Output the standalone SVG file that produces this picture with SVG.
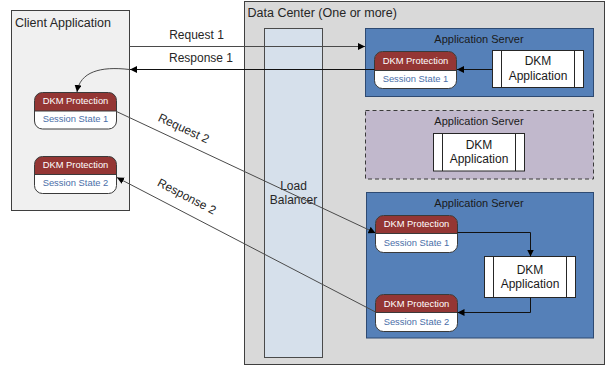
<svg xmlns="http://www.w3.org/2000/svg" width="607" height="368" viewBox="0 0 607 368">
<style>
text{font-family:"Liberation Sans",Arial,sans-serif;}
.title{font-size:12.5px;fill:#262626;}
.srv{font-size:11px;fill:#1a1a1a;text-anchor:middle;}
.lbl{font-size:12px;fill:#262626;}
.app{font-size:12px;fill:#1a1a1a;text-anchor:middle;}
.prot{font-size:9.4px;fill:#ffffff;text-anchor:middle;}
.sess{font-size:9.4px;fill:#4a6ea8;text-anchor:middle;}
.hdr{fill:#943634;}
.pbox{fill:none;stroke:#3a3a3a;stroke-width:1;}
.appbox{fill:#ffffff;stroke:#262626;stroke-width:1;}
.conn{fill:none;stroke:#4a4a4a;stroke-width:1;}
.connk{fill:none;stroke:#111;stroke-width:1;}
</style>
<defs>
<marker id="ah" viewBox="0 0 10 10" refX="10" refY="5" markerWidth="7" markerHeight="7" markerUnits="userSpaceOnUse" orient="auto">
<path d="M0,0 L10,5 L0,10 z" fill="#000"/>
</marker>
<clipPath id="c1"><rect x="374.5" y="51.5" width="82" height="37" rx="8"/></clipPath>
<clipPath id="c2"><rect x="34.5" y="92.5" width="82" height="36.5" rx="8"/></clipPath>
<clipPath id="c3"><rect x="34.5" y="156.5" width="82" height="37" rx="8"/></clipPath>
<clipPath id="c4"><rect x="375.5" y="215.5" width="82" height="37" rx="8"/></clipPath>
<clipPath id="c5"><rect x="375.5" y="294.5" width="82" height="37" rx="8"/></clipPath>
</defs>

<g id="client">
<rect x="11.5" y="10.5" width="118" height="200" fill="#f0f0f0" stroke="#3f3f3f"/>
<text class="title" x="15" y="27">Client Application</text>
</g>

<g id="datacenter">
<rect x="244.5" y="1.5" width="360" height="363" fill="#d9d9d9" stroke="#3f3f3f"/>
<text class="title" x="247.5" y="17">Data Center (One or more)</text>
</g>

<g id="loadbalancer">
<rect x="264.5" y="28.5" width="58" height="329" fill="#d6e0eb" stroke="#4a4a4a"/>
<text class="lbl" x="293.5" y="190" text-anchor="middle">Load</text>
<text class="lbl" x="293.5" y="204" text-anchor="middle">Balancer</text>
</g>

<g id="appserver1">
<rect x="365.5" y="28.5" width="228" height="68" fill="#5580b8" stroke="#2e4a72"/>
<text class="srv" x="479" y="43">Application Server</text>
</g>

<g id="appserver2">
<rect x="365.5" y="110.5" width="228" height="68.5" fill="#c1b8cc" stroke="#3a3a3a" stroke-dasharray="4,3"/>
<text class="srv" x="479" y="125">Application Server</text>
</g>

<g id="appserver3">
<rect x="366.5" y="192.5" width="227" height="145.5" fill="#5580b8" stroke="#2e4a72"/>
<text class="srv" x="479" y="207">Application Server</text>
</g>

<g id="prot1">
<g clip-path="url(#c1)"><rect x="374.5" y="51.5" width="82" height="37" fill="#fff"/><rect class="hdr" x="374.5" y="51.5" width="82" height="19"/></g>
<rect class="pbox" x="374.5" y="51.5" width="82" height="37" rx="8"/>
<line x1="374.5" y1="70.5" x2="456.5" y2="70.5" stroke="#3a3a3a"/>
<text class="prot" x="415.5" y="63.5">DKM Protection</text>
<text class="sess" x="415.5" y="82">Session State 1</text>
</g>

<g id="app1">
<rect class="appbox" x="492.5" y="50.5" width="91" height="37"/>
<line x1="501.5" y1="50.5" x2="501.5" y2="87.5" stroke="#262626"/>
<line x1="574.5" y1="50.5" x2="574.5" y2="87.5" stroke="#262626"/>
<text class="app" x="538" y="65">DKM</text>
<text class="app" x="538" y="79.5">Application</text>
</g>

<g id="app2">
<rect class="appbox" x="433.5" y="133.5" width="91" height="37.5"/>
<line x1="442.5" y1="133.5" x2="442.5" y2="171" stroke="#262626"/>
<line x1="515.5" y1="133.5" x2="515.5" y2="171" stroke="#262626"/>
<text class="app" x="479" y="148.5">DKM</text>
<text class="app" x="479" y="163">Application</text>
</g>

<g id="prot3a">
<g clip-path="url(#c4)"><rect x="375.5" y="215.5" width="82" height="37" fill="#fff"/><rect class="hdr" x="375.5" y="215.5" width="82" height="18"/></g>
<rect class="pbox" x="375.5" y="215.5" width="82" height="37" rx="8"/>
<line x1="375.5" y1="233.5" x2="457.5" y2="233.5" stroke="#3a3a3a"/>
<text class="prot" x="416.5" y="227">DKM Protection</text>
<text class="sess" x="416.5" y="245.5">Session State 1</text>
</g>

<g id="prot3b">
<g clip-path="url(#c5)"><rect x="375.5" y="294.5" width="82" height="37" fill="#fff"/><rect class="hdr" x="375.5" y="294.5" width="82" height="18"/></g>
<rect class="pbox" x="375.5" y="294.5" width="82" height="37" rx="8"/>
<line x1="375.5" y1="312.5" x2="457.5" y2="312.5" stroke="#3a3a3a"/>
<text class="prot" x="416.5" y="306.5">DKM Protection</text>
<text class="sess" x="416.5" y="324.5">Session State 2</text>
</g>

<g id="app3">
<rect class="appbox" x="484.5" y="256.5" width="91" height="41"/>
<line x1="493.5" y1="256.5" x2="493.5" y2="297.5" stroke="#262626"/>
<line x1="566.5" y1="256.5" x2="566.5" y2="297.5" stroke="#262626"/>
<text class="app" x="530" y="273.5">DKM</text>
<text class="app" x="530" y="287.5">Application</text>
</g>

<g id="cprot1">
<g clip-path="url(#c2)"><rect x="34.5" y="92.5" width="82" height="37" fill="#fff"/><rect class="hdr" x="34.5" y="92.5" width="82" height="18.5"/></g>
<rect class="pbox" x="34.5" y="92.5" width="82" height="36.5" rx="8"/>
<line x1="34.5" y1="111" x2="116.5" y2="111" stroke="#3a3a3a"/>
<text class="prot" x="75.5" y="104">DKM Protection</text>
<text class="sess" x="75.5" y="121.5">Session State 1</text>
</g>

<g id="cprot2">
<g clip-path="url(#c3)"><rect x="34.5" y="156.5" width="82" height="37" fill="#fff"/><rect class="hdr" x="34.5" y="156.5" width="82" height="18"/></g>
<rect class="pbox" x="34.5" y="156.5" width="82" height="37" rx="8"/>
<line x1="34.5" y1="174.5" x2="116.5" y2="174.5" stroke="#3a3a3a"/>
<text class="prot" x="75.5" y="168">DKM Protection</text>
<text class="sess" x="75.5" y="186">Session State 2</text>
</g>

<g id="connectors">
<line class="conn" x1="129.5" y1="46.5" x2="365" y2="46.5" marker-end="url(#ah)"/>
<line class="connk" x1="374.5" y1="69.5" x2="130" y2="69.5" marker-end="url(#ah)"/>
<path class="conn" d="M129.5,69.5 C100,66 80,72 77,92" marker-end="url(#ah)"/>
<line class="connk" x1="492.5" y1="69.5" x2="457" y2="69.5" marker-end="url(#ah)"/>
<line class="conn" x1="116.5" y1="111.5" x2="375.5" y2="233" marker-end="url(#ah)"/>
<line class="conn" x1="375.5" y1="312" x2="117" y2="177.5" marker-end="url(#ah)"/>
<path class="connk" d="M457.5,232.5 H530.5 V256.5" marker-end="url(#ah)"/>
<path class="connk" d="M530.5,297.5 V312.5 H457.5" marker-end="url(#ah)"/>
<text class="lbl" x="196.5" y="38.5" text-anchor="middle">Request 1</text>
<text class="lbl" x="201" y="61.5" text-anchor="middle">Response 1</text>
<text class="lbl" x="0" y="0" text-anchor="middle" transform="translate(182,132) rotate(25)">Request 2</text>
<text class="lbl" x="0" y="0" text-anchor="middle" transform="translate(185,200) rotate(27.5)">Response 2</text>
</g>
</svg>
